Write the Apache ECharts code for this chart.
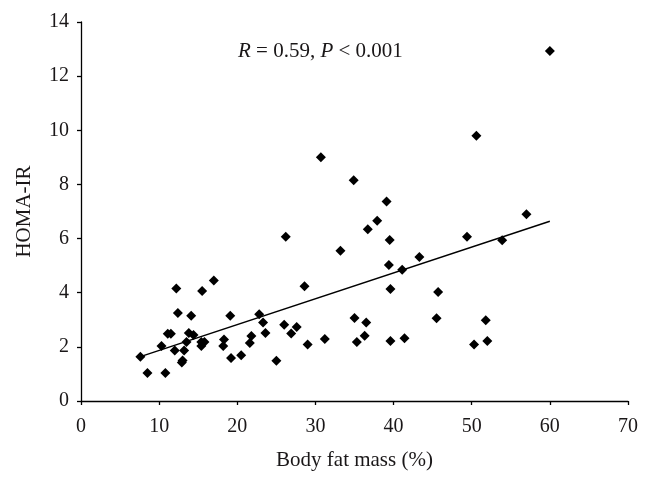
<!DOCTYPE html>
<html>
<head>
<meta charset="utf-8">
<script src="https://cdn.jsdelivr.net/npm/echarts@6/dist/echarts.min.js"></script>
<style>html,body{margin:0;padding:0;background:#fff}#c{width:651px;height:484px}</style>
</head>
<body>
<div id="c"></div>
<script>
var bodyFat = [7.6, 8.5, 10.8, 10.3, 11.1, 11.5, 12.4, 12.0, 13.2, 12.9, 13.0, 13.5, 14.1, 13.8, 14.4, 15.4, 15.8, 15.4, 18.3, 18.2, 19.1, 19.2, 20.5, 21.6, 21.8, 22.8, 23.3, 23.6, 25.0, 12.2, 15.5, 17.0, 30.7, 34.9, 39.1, 37.9, 36.7, 39.5, 26.2, 33.2, 49.4, 43.3, 39.4, 41.1, 28.6, 39.6, 45.7, 35.0, 45.5, 26.0, 27.6, 26.9, 29.0, 31.2, 36.5, 36.3, 35.3, 39.6, 41.4, 60.0, 50.6, 57.0, 53.9, 51.8, 50.3, 52.0];
var homaIR = [1.63, 1.03, 1.03, 2.03, 2.48, 2.48, 3.25, 1.87, 1.87, 1.42, 1.50, 2.18, 3.15, 2.51, 2.44, 2.18, 2.18, 2.03, 2.27, 2.03, 3.15, 1.59, 1.69, 2.14, 2.40, 3.20, 2.90, 2.51, 1.49, 4.16, 4.06, 4.45, 9.0, 8.15, 7.37, 6.66, 6.34, 5.95, 6.07, 5.55, 6.07, 5.32, 5.02, 4.85, 4.24, 4.14, 4.03, 3.07, 3.06, 2.82, 2.73, 2.49, 2.09, 2.29, 2.90, 2.41, 2.18, 2.22, 2.32, 12.93, 9.8, 6.9, 5.94, 2.98, 2.09, 2.22];
var trendX = [7.6, 60.0];
var trendY = [1.64, 6.64];
var xLabel = 'Body fat mass (%)';
var yLabel = 'HOMA-IR';
var statText = '{i|R} = 0.59, {i|P} < 0.001';

var points = bodyFat.map(function (x, i) { return [x, homaIR[i]]; });
var trend = trendX.map(function (x, i) { return [x, trendY[i]]; });
var FONT = 'Liberation Serif';
var INK = '#1a1718';

var chart = echarts.init(document.getElementById('c'), null, { renderer: 'canvas' });
chart.setOption({
  animation: false,
  backgroundColor: '#fff',
  grid: { left: 81, right: 23, top: 22, bottom: 83, containLabel: false },
  xAxis: {
    type: 'value', min: 0, max: 70, interval: 10,
    name: xLabel, nameLocation: 'middle', nameGap: 49,
    nameTextStyle: { fontFamily: FONT, fontSize: 21, color: INK },
    axisLine: { show: true, lineStyle: { color: '#000', width: 1.3 } },
    axisTick: { show: true, inside: false, length: 4, lineStyle: { color: '#000', width: 1.3 } },
    axisLabel: { fontFamily: FONT, fontSize: 20, color: INK, margin: 16 },
    splitLine: { show: false }
  },
  yAxis: {
    type: 'value', min: 0, max: 14, interval: 2,
    name: yLabel, nameLocation: 'middle', nameGap: 46, nameRotate: 90,
    nameTextStyle: { fontFamily: FONT, fontSize: 21, color: INK },
    axisLine: { show: true, lineStyle: { color: '#000', width: 1.3 } },
    axisTick: { show: true, inside: false, length: 4, lineStyle: { color: '#000', width: 1.3 } },
    axisLabel: { fontFamily: FONT, fontSize: 20, color: INK, margin: 12 },
    splitLine: { show: false }
  },
  graphic: [{
    type: 'text', left: 238, top: 41,
    style: {
      text: statText, fontFamily: FONT, fontSize: 21, fill: INK,
      rich: { i: { fontStyle: 'italic', fontFamily: FONT, fontSize: 21, color: INK } }
    }
  }],
  series: [
    {
      type: 'scatter', data: points, symbol: 'diamond', symbolSize: [10, 10],
      itemStyle: { color: '#000', opacity: 1 }, z: 3
    },
    {
      type: 'line', data: trend, symbol: 'none', silent: true,
      lineStyle: { color: '#000', width: 1.5 }, z: 2
    }
  ]
});
</script>
</body>
</html>
